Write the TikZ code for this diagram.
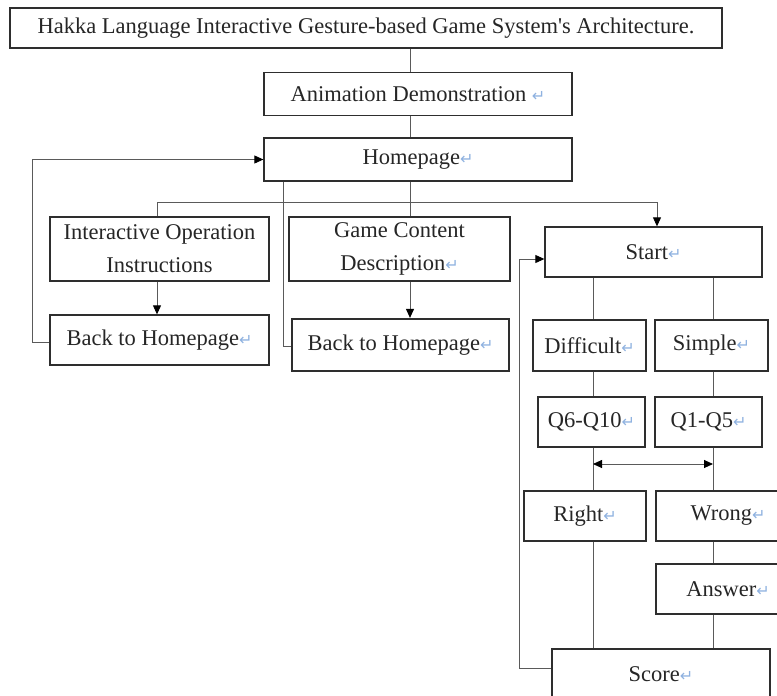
\documentclass[tikz,border=0pt]{standalone}
\usepackage{fontspec}
\setmainfont{Liberation Serif}[Ligatures=TeXOff]
\newfontfamily\markfont{DejaVu Sans}
\usetikzlibrary{arrows.meta}
\definecolor{markblue}{HTML}{8FB2E0}
\definecolor{boxline}{HTML}{2E2E2E}
\definecolor{connc}{HTML}{5A5A5A}
\newcommand{\pmark}{{\markfont\fontsize{16}{16}\selectfont\color{markblue}↵}}
\begin{document}
\begin{tikzpicture}[x=1pt,y=-1pt,
  box/.style={draw=boxline, line width=1.3pt, fill=white, inner sep=0pt, align=center,
    font=\fontsize{22.5}{33}\selectfont, text=black!85},
  conn/.style={draw=connc, line width=0.9pt},
  arr/.style={conn, -{Triangle[length=9pt,width=8pt,color=black]}},
  darr/.style={conn, {Triangle[length=9pt,width=8pt,color=black]}-{Triangle[length=9pt,width=8pt,color=black]}}]
\useasboundingbox (0,0) rectangle (777,696);
\clip (0,0) rectangle (777,696);
\fill[white] (0,0) rectangle (777,696);

% nodes
\node[box, minimum width=712pt, minimum height=40pt] (title) at (366,28) {Hakka Language Interactive Gesture-based Game System's Architecture.};
\node[box, minimum width=308pt, minimum height=43pt] (anim) at (418,94) {Animation Demonstration \pmark};
\node[box, minimum width=308pt, minimum height=43pt] (home) at (418,159.5) {Homepage\pmark};
\node[box, minimum width=219pt, minimum height=64pt] (ioi) at (159.5,249) {Interactive Operation\\Instructions};
\node[box, minimum width=221pt, minimum height=64pt] (gcd) at (399.5,249) {Game Content\\Description\pmark};
\node[box, minimum width=219pt, minimum height=50pt] (bth1) at (159.5,340) {Back to Homepage\pmark};
\node[box, line width=2.2pt, minimum width=217pt, minimum height=52pt] (bth2) at (400.5,345) {Back to Homepage\pmark};
\node[box, minimum width=217pt, minimum height=50pt] (start) at (653.5,252) {Start\pmark};
\node[box, minimum width=113pt, minimum height=51pt] (diff) at (589.5,345.5) {Difficult\pmark};
\node[box, minimum width=113pt, minimum height=51pt] (simple) at (711.5,345.5) {Simple\pmark};
\node[box, minimum width=107pt, minimum height=50pt] (q6) at (591.5,422) {Q6-Q10\pmark};
\node[box, minimum width=107pt, minimum height=50pt] (q1) at (708.5,422) {Q1-Q5\pmark};
\node[box, minimum width=122pt, minimum height=50pt] (right) at (585,516) {Right\pmark};
\node[box, minimum width=144pt, minimum height=50pt] (wrong) at (728,516) {Wrong\pmark};
\node[box, minimum width=144pt, minimum height=50pt] (answer) at (728,589) {Answer\pmark};
\node[box, minimum width=218pt, minimum height=50pt] (score) at (661,674) {Score\pmark};

% helper coordinates
\coordinate (jm) at (410,202);
\coordinate (jl) at (157,202);
\coordinate (jr) at (657,202);
\coordinate (hb) at (283,346);
\coordinate (l1) at (32,342);
\coordinate (l2) at (519,668);
\coordinate (sl) at (519,259);
\coordinate (cL) at (593,0);
\coordinate (cR) at (713,0);
\coordinate (dl) at (593,464);
\coordinate (dr) at (713,464);

% connectors
\draw[conn] (title.south -| jm) -- (anim.north -| jm);
\draw[conn] (anim.south -| jm) -- (home.north -| jm);
\draw[conn] (home.south -| jm) -- (gcd.north -| jm);
\draw[arr] (ioi.north -| jl) -- (jl) -- (jr) -- (start.north -| jr);
\draw[arr] (ioi.south -| jl) -- (bth1.north -| jl);
\draw[arr] (gcd.south -| jm) -- (bth2.north -| jm);
\draw[conn] (home.south -| hb) -- (hb) -- (hb -| bth2.west);
\draw[arr] (bth1.west |- l1) -- (l1) -- (l1 |- home.west) -- (home.west);
\draw[arr] (score.west |- l2) -- (l2) -- (sl) -- (start.west |- sl);

\draw[conn] (start.south -| cL) -- (diff.north -| cL);
\draw[conn] (diff.south -| cL) -- (q6.north -| cL);
\draw[conn] (q6.south -| cL) -- (right.north -| cL);
\draw[conn] (right.south -| cL) -- (score.north -| cL);
\draw[conn] (start.south -| cR) -- (simple.north -| cR);
\draw[conn] (simple.south -| cR) -- (q1.north -| cR);
\draw[conn] (q1.south -| cR) -- (wrong.north -| cR);
\draw[conn] (wrong.south -| cR) -- (answer.north -| cR);
\draw[conn] (answer.south -| cR) -- (score.north -| cR);
\draw[darr] (dl) -- (dr);
\end{tikzpicture}
\end{document}
